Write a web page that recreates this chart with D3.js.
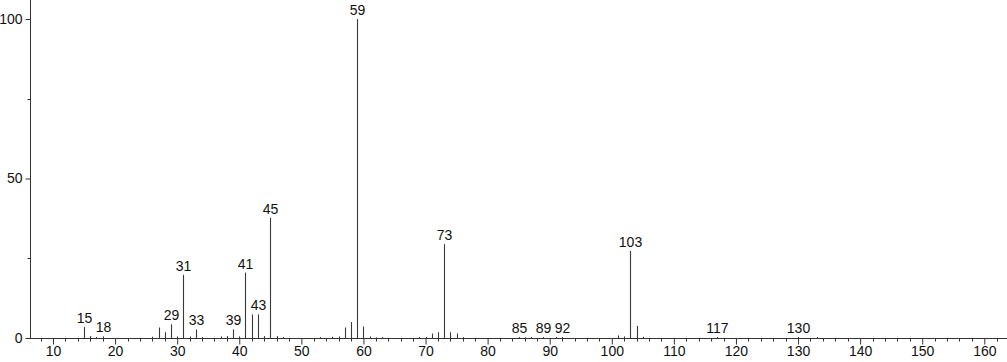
<!DOCTYPE html>
<html>
<head>
<meta charset="utf-8">
<script src="https://cdn.jsdelivr.net/npm/d3@7"></script>
<style>
  body { margin: 0; background: #fff; }
  svg { display: block; }
  text { font-family: "Liberation Sans", Arial, sans-serif; font-size: 14px; fill: #111; }
</style>
</head>
<body>
<script>
var w = 1007;
var h = 362;

// m/z and relative intensity
var mz = [15, 16, 17, 18, 26, 27, 28, 29, 30, 31, 32, 33, 34, 37, 38, 39, 40, 41, 42, 43, 44, 45, 46, 47,
          53, 55, 56, 57, 58, 59, 60, 61, 62, 63, 69, 70, 71, 72, 73, 74, 75, 76,
          85, 86, 87, 89, 91, 92, 101, 102, 103, 104, 105, 117, 130, 133];
var intensity = [3.5, 0.6, 0.3, 0.5, 0.4, 3.3, 1.8, 4.3, 0.5, 19.8, 0.5, 2.7, 0.3, 0.5, 0.6, 2.7, 0.5, 20.5, 7.4, 7.4, 0.6, 37.7, 0.6, 0.3,
                 0.3, 0.4, 0.5, 3.3, 5.0, 100, 3.6, 0.5, 0.2, 0.3, 0.3, 0.3, 1.4, 1.8, 29.4, 1.8, 1.4, 0.3,
                 0.3, 0.2, 0.3, 0.3, 0.3, 0.3, 0.8, 0.5, 27.3, 3.8, 0.4, 0.3, 0.3, 0.3];
var labelled = [15, 18, 29, 31, 33, 39, 41, 43, 45, 59, 73, 85, 89, 92, 103, 117, 130];

var xTicks = [10, 20, 30, 40, 50, 60, 70, 80, 90, 100, 110, 120, 130, 140, 150, 160];
var yTicks = [0, 50, 100];

var peaks = mz.map(function(d, i) { return { mz: d, v: intensity[i] }; });

var x0 = 30, yBase = 338;

var x = d3.scaleLinear().domain([10, 160]).range([53, 984.3]);
var y = d3.scaleLinear().domain([0, 100]).range([yBase, 19]);

var svg = d3.select("body").append("svg")
    .attr("width", w)
    .attr("height", h);

// bars
svg.append("g").selectAll("line")
    .data(peaks)
    .enter()
    .append("line")
    .attr("x1", function(d) { return Math.round(x(d.mz)) + 0.5; })
    .attr("x2", function(d) { return Math.round(x(d.mz)) + 0.5; })
    .attr("y1", y(0))
    .attr("y2", function(d) { return y(d.v); })
    .attr("stroke", "#3a3a3a")
    .attr("stroke-width", 1.1);

// peak labels
svg.append("g").selectAll("text")
    .data(peaks.filter(function(d) { return labelled.indexOf(d.mz) >= 0; }))
    .enter()
    .append("text")
    .attr("x", function(d) { return Math.round(x(d.mz)) + 0.5; })
    .attr("y", function(d) { return y(d.v) - 4; })
    .attr("text-anchor", "middle")
    .text(function(d) { return d.mz; });

// x axis
var xMinor = d3.range(8, 164, 2).filter(function(d) { return d % 10 !== 0; });

var xAxis = d3.axisBottom(x)
    .tickValues(xTicks)
    .tickSize(6)
    .tickPadding(2)
    .tickFormat(d3.format("d"));

var gx = svg.append("g")
    .attr("transform", "translate(0," + (yBase + 0.5) + ")")
    .call(xAxis);
gx.select(".domain").remove();
gx.append("line")
    .attr("x1", x0).attr("x2", w)
    .attr("stroke", "#333");
gx.selectAll(".minor")
    .data(xMinor)
    .enter()
    .append("line")
    .attr("class", "minor")
    .attr("x1", function(d) { return Math.round(x(d)) + 0.5; })
    .attr("x2", function(d) { return Math.round(x(d)) + 0.5; })
    .attr("y1", 0)
    .attr("y2", 3)
    .attr("stroke", "#333");
gx.selectAll(".tick line").attr("stroke", "#333");
gx.selectAll(".tick text")
    .attr("fill", "#111")
    .style("font-size", "14px")
    .style("font-family", "'Liberation Sans', Arial, sans-serif");

// y axis
var yAxis = d3.axisLeft(y)
    .tickValues(yTicks)
    .tickSize(5)
    .tickPadding(3);

var gy = svg.append("g")
    .attr("transform", "translate(" + (x0 + 0.5) + ",0)")
    .call(yAxis);
gy.select(".domain").remove();
gy.append("line")
    .attr("y1", 0).attr("y2", yBase + 0.5)
    .attr("stroke", "#333");
gy.selectAll(".minor")
    .data([25, 75])
    .enter()
    .append("line")
    .attr("class", "minor")
    .attr("x1", -3).attr("x2", 0)
    .attr("y1", function(d) { return Math.round(y(d)) + 0.5; })
    .attr("y2", function(d) { return Math.round(y(d)) + 0.5; })
    .attr("stroke", "#333");
gy.selectAll(".tick line").attr("stroke", "#333");
gy.selectAll(".tick text")
    .attr("fill", "#111")
    .style("font-size", "14px")
    .style("font-family", "'Liberation Sans', Arial, sans-serif");
</script>
</body>
</html>
